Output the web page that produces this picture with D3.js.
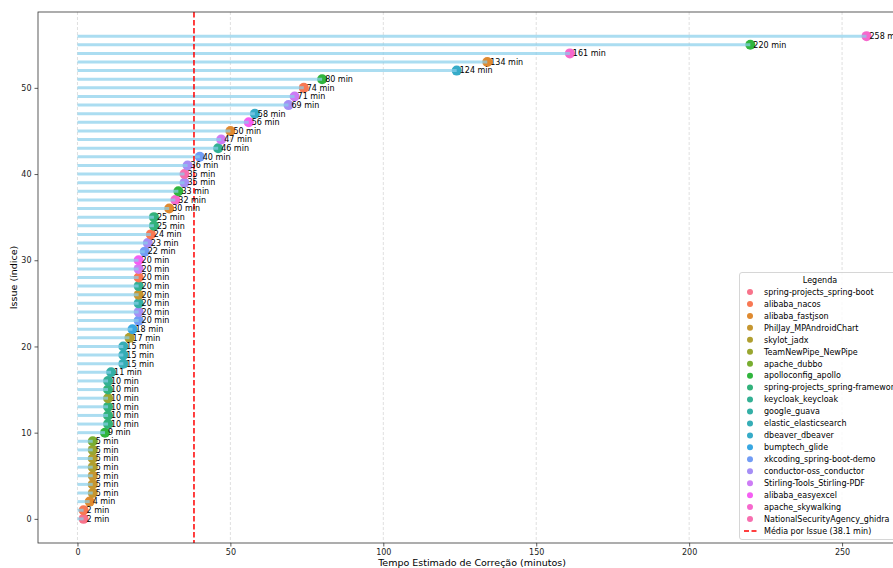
<!DOCTYPE html>
<html><head><meta charset="utf-8">
<script src="https://cdn.jsdelivr.net/npm/d3@7"></script>
<style>body{margin:0;background:#fff;overflow:hidden}svg{display:block;font-family:"DejaVu Sans",sans-serif}</style>
</head><body><svg id="c" width="893" height="568"></svg>
<script>
const repos = ["spring-projects_spring-boot","alibaba_nacos","alibaba_fastjson","PhilJay_MPAndroidChart","skylot_jadx","TeamNewPipe_NewPipe","apache_dubbo","apolloconfig_apollo","spring-projects_spring-framework","keycloak_keycloak","google_guava","elastic_elasticsearch","dbeaver_dbeaver","bumptech_glide","xkcoding_spring-boot-demo","conductor-oss_conductor","Stirling-Tools_Stirling-PDF","alibaba_easyexcel","apache_skywalking","NationalSecurityAgency_ghidra"];
const values = [2,2,4,5,5,5,5,5,5,5,9,10,10,10,10,10,10,11,15,15,15,17,18,20,20,20,20,20,20,20,20,22,23,24,25,25,30,32,33,35,35,36,40,46,47,50,56,58,69,71,74,80,124,134,161,220,258];
const issueRepo = ["spring-projects_spring-boot","alibaba_nacos","alibaba_fastjson","PhilJay_MPAndroidChart","PhilJay_MPAndroidChart","PhilJay_MPAndroidChart","skylot_jadx","skylot_jadx","TeamNewPipe_NewPipe","apache_dubbo","apolloconfig_apollo","spring-projects_spring-framework","spring-projects_spring-framework","spring-projects_spring-framework","TeamNewPipe_NewPipe","spring-projects_spring-framework","keycloak_keycloak","google_guava","elastic_elasticsearch","elastic_elasticsearch","elastic_elasticsearch","skylot_jadx","bumptech_glide","xkcoding_spring-boot-demo","conductor-oss_conductor","google_guava","PhilJay_MPAndroidChart","keycloak_keycloak","alibaba_nacos","Stirling-Tools_Stirling-PDF","alibaba_easyexcel","xkcoding_spring-boot-demo","conductor-oss_conductor","alibaba_nacos","spring-projects_spring-framework","spring-projects_spring-framework","alibaba_fastjson","apache_skywalking","apolloconfig_apollo","conductor-oss_conductor","NationalSecurityAgency_ghidra","conductor-oss_conductor","xkcoding_spring-boot-demo","keycloak_keycloak","Stirling-Tools_Stirling-PDF","alibaba_fastjson","alibaba_easyexcel","dbeaver_dbeaver","conductor-oss_conductor","Stirling-Tools_Stirling-PDF","alibaba_nacos","apolloconfig_apollo","dbeaver_dbeaver","alibaba_fastjson","apache_skywalking","apolloconfig_apollo","apache_skywalking"];
const xTicks = [0,50,100,150,200,250];
const yTicks = [0,10,20,30,40,50];
const meanValue = 38.1;
const meanLabel = "Média por Issue (38.1 min)";

// HUSL (seaborn husl palette) conversion
function huslToRgb(H,S,L){
  const m=[[3.240969941904521,-1.537383177570093,-0.498610760293],[-0.96924363628087,1.87596750150772,0.041555057407175],[0.055630079696993,-0.20397695888897,1.056971514242878]];
  const kappa=903.2962962,eps=0.0088564516;
  let sub1=Math.pow(L+16,3)/1560896, sub2=sub1>eps?sub1:L/kappa;
  const hr=H/360*2*Math.PI; let maxC=Infinity;
  for(let c=0;c<3;c++){const [m1,m2,m3]=m[c];for(const t of [0,1]){
    const top1=(284517*m1-94839*m3)*sub2, top2=(838422*m3+769860*m2+731718*m1)*L*sub2-769860*t*L, bottom=(632260*m3-126452*m2)*sub2+126452*t;
    const slope=top1/bottom, inter=top2/bottom; const len=inter/(Math.sin(hr)-slope*Math.cos(hr)); if(len>=0) maxC=Math.min(maxC,len);}}
  const C=maxC*S/100; const U=C*Math.cos(hr), V=C*Math.sin(hr);
  const varY=L<=8?L/kappa:Math.pow((L+16)/116,3);
  const vu=U/(13*L)+0.19783000664283, vv=V/(13*L)+0.46831999493879;
  const Y=varY, X=0-(9*Y*vu)/((vu-4)*vv-vu*vv), Z=(9*Y-15*vv*Y-vv*X)/(3*vv);
  const f=c=>{c=c<=0.0031308?12.92*c:1.055*Math.pow(c,1/2.4)-0.055;return Math.max(0,Math.min(1,c));};
  const rgb=m.map(r=>f(r[0]*X+r[1]*Y+r[2]*Z));
  return d3.rgb(rgb[0]*255,rgb[1]*255,rgb[2]*255).formatHex();
}
const palette = repos.map((r,i)=>huslToRgb(((i/repos.length+0.01)%1)*359,90,65));
const color = d3.scaleOrdinal().domain(repos).range(palette);

const svg=d3.select("#c");
const L=38,T=12,R=906,B=543;
const x=d3.scaleLinear().domain([-12.9,270.9]).range([L,R]);
const y=d3.scaleLinear().domain([-2.8,58.8]).range([B,T]);
const data=values.map((v,i)=>({i,v,repo:issueRepo[i]}));

// grid
svg.append("g").selectAll("line").data(xTicks).join("line")
  .attr("x1",d=>x(d)).attr("x2",d=>x(d)).attr("y1",T).attr("y2",B)
  .attr("stroke","#b0b0b0").attr("stroke-opacity",0.5).attr("stroke-dasharray","3,2").attr("stroke-width",0.8);

// dots
svg.append("g").selectAll("circle").data(data).join("circle")
  .attr("cx",d=>x(d.v)).attr("cy",d=>y(d.i)).attr("r",5).attr("fill",d=>color(d.repo));
// lines
svg.append("g").selectAll("line").data(data).join("line")
  .attr("x1",x(0)).attr("x2",d=>x(d.v)).attr("y1",d=>y(d.i)).attr("y2",d=>y(d.i))
  .attr("stroke","#87ceeb").attr("stroke-opacity",0.7).attr("stroke-width",3);
// mean
svg.append("line").attr("x1",x(meanValue)).attr("x2",x(meanValue)).attr("y1",T).attr("y2",B)
  .attr("stroke","#ff0000").attr("stroke-width",1.5).attr("stroke-dasharray","5.5,2.5");
// labels
svg.append("g").selectAll("text").data(data).join("text")
  .attr("x",d=>x(d.v)+3).attr("y",d=>y(d.i)).attr("dy","0.35em")
  .attr("font-size",8).attr("fill","#000").text(d=>d.v+" min");

// axes
const xa=svg.append("g").attr("transform",`translate(0,${B})`).call(d3.axisBottom(x).tickValues(xTicks).tickSize(3.5).tickPadding(3));
const ya=svg.append("g").attr("transform",`translate(${L},0)`).call(d3.axisLeft(y).tickValues(yTicks).tickSize(3.5).tickPadding(3));
[xa,ya].forEach(a=>{a.select(".domain").remove();a.selectAll("text").attr("font-size",8).attr("font-family","DejaVu Sans").attr("fill","#222");a.selectAll("line").attr("stroke","#333").attr("stroke-width",0.8);});
svg.append("rect").attr("x",L).attr("y",T).attr("width",R-L).attr("height",B-T).attr("fill","none").attr("stroke","#333").attr("stroke-width",0.8);

svg.append("text").attr("x",(L+R)/2).attr("y",566).attr("text-anchor","middle").attr("font-size",9.5).text("Tempo Estimado de Correção (minutos)");
svg.append("text").attr("transform",`translate(17,${(T+B)/2}) rotate(-90)`).attr("text-anchor","middle").attr("font-size",9.5).text("Issue (índice)");

// legend
const lg=svg.append("g").attr("transform","translate(739,272)");
lg.append("rect").attr("x",0.5).attr("y",0.5).attr("width",180).attr("height",267).attr("rx",2.5)
  .attr("fill","#fff").attr("fill-opacity",0.8).attr("stroke","#cccccc").attr("stroke-width",0.8);
lg.append("text").attr("x",81).attr("y",11).attr("text-anchor","middle").attr("font-size",8).text("Legenda");
const items=lg.selectAll("g.it").data(repos).join("g").attr("class","it").attr("transform",(d,i)=>`translate(0,${20+i*11.95})`);
items.append("circle").attr("cx",11).attr("cy",0).attr("r",3).attr("fill",d=>color(d));
items.append("text").attr("x",25).attr("y",0).attr("dy","0.35em").attr("font-size",8).text(d=>d);
const my=20+repos.length*11.95;
lg.append("line").attr("x1",5).attr("x2",19).attr("y1",my).attr("y2",my).attr("stroke","#ff0000").attr("stroke-width",1.5).attr("stroke-dasharray","5,2.5");
lg.append("text").attr("x",25).attr("y",my).attr("dy","0.35em").attr("font-size",8).text(meanLabel);
</script></body></html>
